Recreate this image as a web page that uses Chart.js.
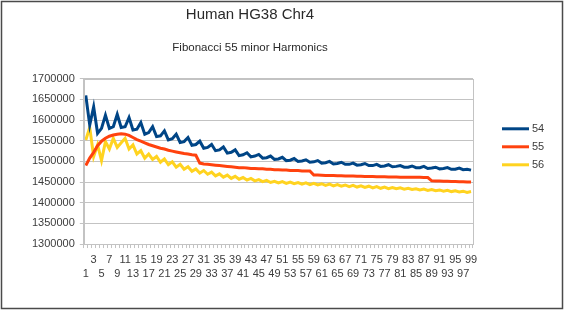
<!DOCTYPE html>
<html>
<head>
<meta charset="utf-8">
<script src="https://cdn.jsdelivr.net/npm/chart.js@4/dist/chart.umd.min.js"></script>
<style>
html,body{margin:0;padding:0;background:#fff;}
#wrap{position:relative;width:565px;height:312px;}
</style>
</head>
<body>
<div id="wrap"><canvas id="c" width="565" height="312"></canvas></div>
<script>
const categories = ["1","2","3","4","5","6","7","8","9","10","11","12","13","14","15","16","17","18","19","20","21","22","23","24","25","26","27","28","29","30","31","32","33","34","35","36","37","38","39","40","41","42","43","44","45","46","47","48","49","50","51","52","53","54","55","56","57","58","59","60","61","62","63","64","65","66","67","68","69","70","71","72","73","74","75","76","77","78","79","80","81","82","83","84","85","86","87","88","89","90","91","92","93","94","95","96","97","98","99"];

const series54 = [1660000,1588000,1632000,1568000,1580000,1612000,1580000,1584000,1614000,1582000,
1584000,1606000,1576000,1578000,1594000,1566000,1570000,1584000,1560000,1562000,
1574000,1552000,1555000,1566000,1546000,1548000,1558000,1539000,1541000,1549000,
1532000,1534000,1541000,1526000,1528000,1535000,1520000,1522000,1528000,1514000,
1516000,1521000,1511000,1513000,1517000,1508000,1509000,1513000,1505000,1506000,
1510000,1502000,1503000,1507000,1500000,1501000,1504000,1498000,1499000,1502000,
1496000,1497000,1500000,1494000,1495000,1498000,1493000,1493000,1496000,1491000,
1492000,1495000,1490000,1490000,1493000,1488000,1489000,1492000,1487000,1488000,
1490000,1486000,1486000,1489000,1485000,1485000,1488000,1483000,1484000,1486000,
1482000,1483000,1485000,1481000,1481000,1484000,1480000,1481000,1479000];

const series55 = [1490000,1508000,1522000,1538000,1549000,1556000,1561000,1564000,1566000,1567000,
1566000,1563000,1558000,1553000,1549000,1545000,1541000,1538000,1535000,1532000,
1530000,1527000,1525000,1523000,1521000,1519000,1518000,1516000,1515000,1496000,
1494000,1493000,1492000,1491000,1490000,1489000,1488000,1487000,1486000,1485000,
1485000,1484000,1483000,1483000,1482000,1482000,1481000,1481000,1480000,1480000,
1479000,1479000,1478000,1478000,1478000,1477000,1477000,1477000,1467000,1467000,
1466500,1466000,1466000,1465800,1465500,1465200,1465000,1464800,1464500,1464200,
1464000,1463800,1463600,1463400,1463200,1463000,1462800,1462600,1462400,1462200,
1462000,1461900,1461800,1461700,1461600,1461500,1461300,1461000,1453000,1452800,
1452500,1452200,1452000,1451700,1451400,1451100,1450800,1450500,1450200];

const series56 = [1552000,1582000,1512000,1540000,1502000,1548000,1530000,1556000,1534000,1545000,
1556000,1530000,1540000,1518000,1526000,1508000,1518000,1505000,1512000,1498000,
1506000,1492000,1499000,1486000,1493000,1481000,1487000,1476000,1482000,1472000,
1478000,1469000,1474000,1465000,1470000,1462000,1467000,1459000,1464000,1457000,
1461000,1455000,1459000,1453000,1456000,1451000,1454000,1449000,1452000,1448000,
1451000,1447000,1450000,1446000,1449000,1445000,1448000,1444000,1447000,1443000,
1446000,1442000,1445000,1441000,1444000,1440000,1443000,1439000,1442000,1438000,
1441000,1437000,1440000,1436000,1439000,1435000,1438000,1434000,1437000,1434000,
1436000,1433000,1435000,1432000,1434000,1431000,1433000,1430000,1432000,1429000,
1431000,1428000,1430000,1427000,1429000,1426000,1428000,1425000,1427000];

const seriesNames = ["54","55","56"];
const seriesColors = ["#004586","#ff420e","#ffd320"];
const yMin = 1300000, yMax = 1700000, yStep = 50000;

const textColor = "#3c3c3c";
const gridColor = "#c3c3c3";
const font = "'Liberation Sans', Arial, sans-serif";

const frameAndLegend = {
  id: "frameAndLegend",
  afterDraw(chart) {
    const ctx = chart.ctx, a = chart.chartArea;
    ctx.save();
    ctx.strokeStyle = gridColor; ctx.lineWidth = 1;
    ctx.strokeRect(Math.round(a.left)+0.5, Math.round(a.top)+0.5, Math.round(a.right-a.left), Math.round(a.bottom-a.top));
    ctx.strokeStyle = "#4a4a4a"; ctx.lineWidth = 1.5;
    ctx.strokeRect(1.5, 1.5, 561, 307);
    chart.data.datasets.forEach((ds, i) => {
      const y = a.top + 50 + i * 18;
      const x0 = a.right + 29;
      ctx.strokeStyle = ds.borderColor; ctx.lineWidth = 3;
      ctx.beginPath(); ctx.moveTo(x0, y); ctx.lineTo(x0 + 27, y); ctx.stroke();
      ctx.fillStyle = textColor; ctx.font = "11px " + font;
      ctx.textBaseline = "middle"; ctx.textAlign = "left";
      ctx.fillText(ds.label, x0 + 30, y + 0.5);
    });
    ctx.restore();
  }
};

new Chart(document.getElementById("c"), {
  type: "line",
  data: {
    labels: categories,
    datasets: [series54, series55, series56].map((d, i) => ({
      label: seriesNames[i], data: d, borderColor: seriesColors[i], backgroundColor: seriesColors[i],
      borderWidth: 3, pointRadius: 0, tension: 0, fill: false
    }))
  },
  options: {
    responsive: false, animation: false, devicePixelRatio: 1,
    layout: { padding: { left: 27, right: 92, top: 0, bottom: 26 } },
    plugins: {
      legend: { display: false },
      tooltip: { enabled: false },
      title: { display: true, text: "Human HG38 Chr4", color: "#2a2a2a",
        font: { family: font, size: 15, weight: "normal" }, padding: { top: 6, bottom: 11 } },
      subtitle: { display: true, text: "Fibonacci 55 minor Harmonics", color: "#2a2a2a",
        font: { family: font, size: 11.5, weight: "normal" }, padding: { top: 6, bottom: 24 } }
    },
    scales: {
      x: {
        offset: true,
        grid: { display: true, offset: true, drawOnChartArea: false, drawTicks: true, tickLength: 4, color: gridColor },
        border: { display: true, color: gridColor },
        ticks: {
          autoSkip: false, maxRotation: 0, minRotation: 0, padding: 5, color: textColor,
          font: { family: font, size: 11, lineHeight: 1.27 },
          callback: function(v, idx) {
            const n = idx + 1; const c = categories[idx];
            if (n % 2 === 0) return "";
            return (n % 4 === 3) ? c : ["", c];
          }
        }
      },
      y: {
        min: yMin, max: yMax,
        grid: { color: gridColor, tickLength: 4 },
        border: { display: true, color: gridColor },
        ticks: { stepSize: yStep, padding: 5, color: textColor, font: { family: font, size: 11 },
          callback: v => String(v) }
      }
    }
  },
  plugins: [frameAndLegend]
});
</script>
</body>
</html>
